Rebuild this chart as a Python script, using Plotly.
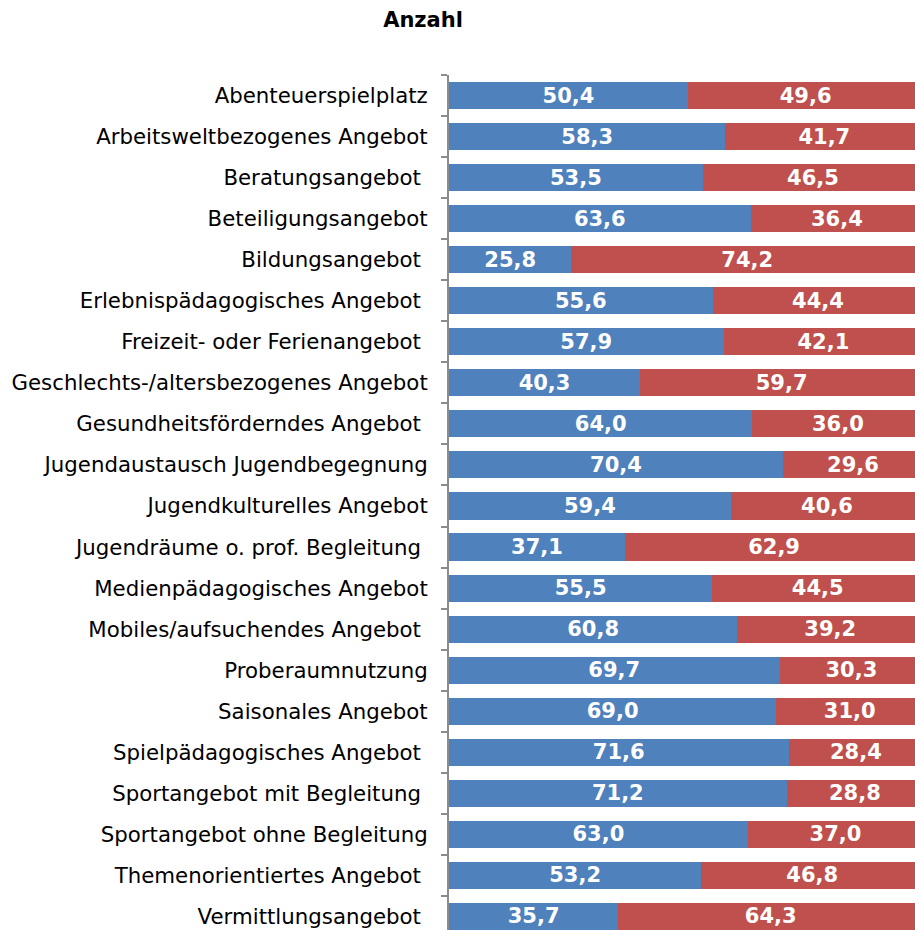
import plotly.graph_objects as go

categories = [
    "Abenteuerspielplatz",
    "Arbeitsweltbezogenes Angebot",
    "Beratungsangebot\u00a0",
    "Beteiligungsangebot",
    "Bildungsangebot\u00a0",
    "Erlebnispädagogisches Angebot\u00a0",
    "Freizeit- oder Ferienangebot\u00a0",
    "Geschlechts-/altersbezogenes Angebot",
    "Gesundheitsförderndes Angebot\u00a0",
    "Jugendaustausch Jugendbegegnung",
    "Jugendkulturelles Angebot",
    "Jugendräume o. prof. Begleitung\u00a0",
    "Medienpädagogisches Angebot",
    "Mobiles/aufsuchendes Angebot\u00a0",
    "Proberaumnutzung",
    "Saisonales Angebot",
    "Spielpädagogisches Angebot\u00a0",
    "Sportangebot mit Begleitung\u00a0",
    "Sportangebot ohne Begleitung",
    "Themenorientiertes Angebot\u00a0",
    "Vermittlungsangebot\u00a0",
]
blue_values = [50.4, 58.3, 53.5, 63.6, 25.8, 55.6, 57.9, 40.3, 64.0, 70.4, 59.4,
               37.1, 55.5, 60.8, 69.7, 69.0, 71.6, 71.2, 63.0, 53.2, 35.7]
red_values = [49.6, 41.7, 46.5, 36.4, 74.2, 44.4, 42.1, 59.7, 36.0, 29.6, 40.6,
              62.9, 44.5, 39.2, 30.3, 31.0, 28.4, 28.8, 37.0, 46.8, 64.3]
title_text = "Anzahl"

FONT = "DejaVu Sans, Verdana, sans-serif"

def fmt(v):
    return f"{v:.1f}".replace(".", ",")

fig = go.Figure()
for vals, color in [(blue_values, "#4F81BD"), (red_values, "#C0504D")]:
    fig.add_trace(go.Bar(
        y=categories, x=vals, orientation="h",
        marker=dict(color=color, line=dict(width=0)),
        text=[fmt(v) for v in vals],
        textposition="inside", insidetextanchor="middle",
        constraintext="none",
        textfont=dict(family=FONT, size=21, color="white", weight="bold"),
        hoverinfo="skip",
    ))

fig.update_layout(
    width=915, height=930,
    barmode="stack", bargap=0.34,
    showlegend=False,
    plot_bgcolor="white", paper_bgcolor="white",
    margin=dict(l=449, r=0, t=75, b=0),
    font=dict(family=FONT, size=21, color="black"),
    title=dict(
        text="<b>" + title_text + "</b>", x=423 / 915, xref="container",
        y=1 - 20 / 930, yref="container", xanchor="center", yanchor="middle",
        font=dict(family=FONT, size=21, color="black"),
    ),
    xaxis=dict(range=[0, 98.27], visible=False, fixedrange=True),
    yaxis=dict(
        type="category", categoryorder="array", categoryarray=categories,
        range=[20.33, -0.5], autorange=False,
        showline=True, linecolor="#8C8C8C", linewidth=2,
        ticks="outside", tickson="boundaries", ticklen=6, tickwidth=1.5,
        tickcolor="#8C8C8C", ticklabelstandoff=15,
        showgrid=False, tickfont=dict(family=FONT, size=21.3, color="black"),
    ),
)
fig.write_html(
    "out.html",
    config={"displayModeBar": False},
    post_script="document.body.style.margin='0';document.body.style.overflow='hidden';",
)
